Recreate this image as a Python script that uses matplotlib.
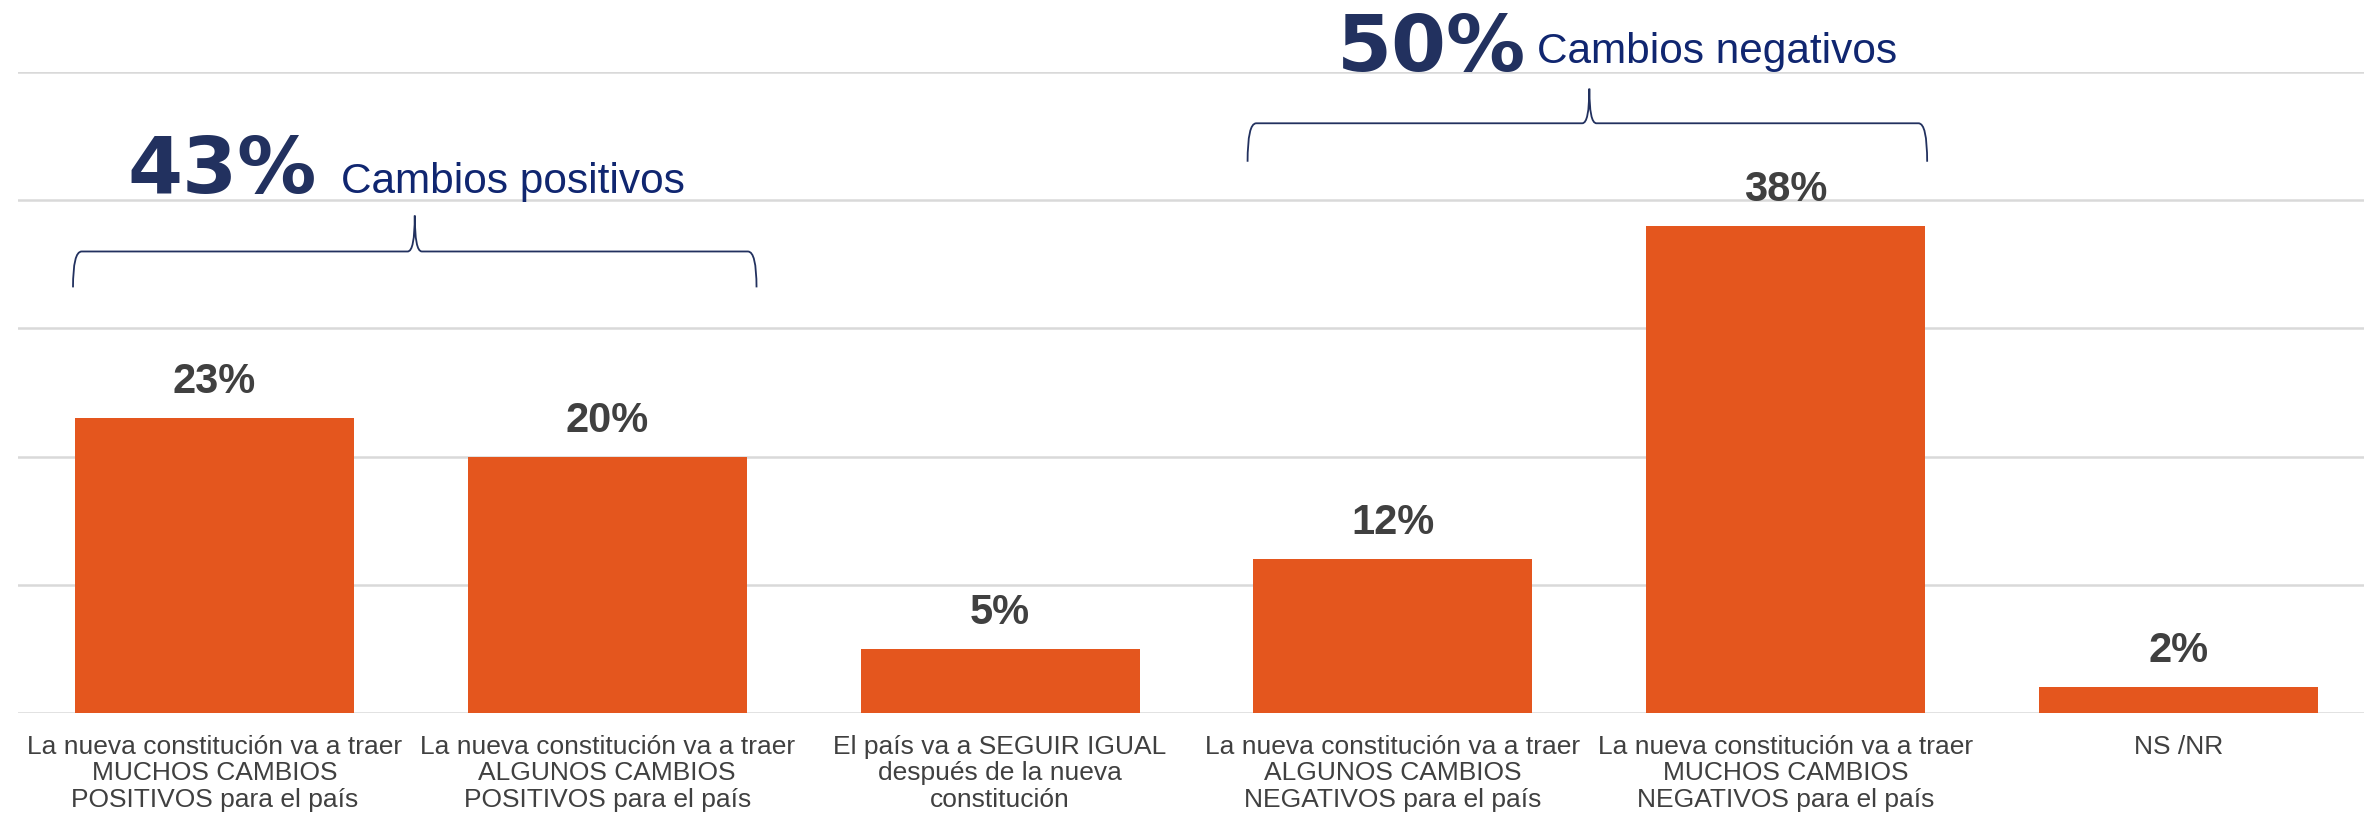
import matplotlib.pyplot as plt
from matplotlib.path import Path
from matplotlib.patches import PathPatch

# Data
categories = [
    "La nueva constitución va a traer\nMUCHOS CAMBIOS\nPOSITIVOS para el país",
    "La nueva constitución va a traer\nALGUNOS CAMBIOS\nPOSITIVOS para el país",
    "El país va a SEGUIR IGUAL\ndespués de la nueva\nconstitución",
    "La nueva constitución va a traer\nALGUNOS CAMBIOS\nNEGATIVOS para el país",
    "La nueva constitución va a traer\nMUCHOS CAMBIOS\nNEGATIVOS para el país",
    "NS /NR",
]
values = [23, 20, 5, 12, 38, 2]
group_totals = ["43%", "50%"]
group_names = ["Cambios positivos", "Cambios negativos"]

orange = "#E4561E"
navy = "#22315F"
navy2 = "#102670"
gray = "#404040"

plt.rcParams['font.family'] = ['Liberation Sans', 'DejaVu Sans']

fig = plt.figure(figsize=(23.64, 8.19), dpi=100)
ax = fig.add_axes([18 / 2364, 106 / 819, 2346 / 2364, 641 / 819])

x = range(len(values))
ax.bar(x, values, width=0.71, color=orange, zorder=2)

# value labels
for i, v in enumerate(values):
    ax.annotate(f"{v}%", (i, v), xytext=(0, 18), textcoords="offset points",
                ha="center", va="baseline", fontsize=30, fontweight="bold", color=gray)

ax.set_xlim(-0.5, 5.472)
ax.set_ylim(0, 50)
ax.set_yticks(range(0, 51, 10))
ax.yaxis.grid(True, color="#D9D9D9", linewidth=1.8, zorder=0)
ax.set_axisbelow(True)
ax.tick_params(axis="y", left=False, labelleft=False)
ax.tick_params(axis="x", length=0, pad=15.5)
ax.set_xticks(list(x))
ax.set_xticklabels(categories, fontsize=19, color=gray, linespacing=1.15)
for s in ax.spines.values():
    s.set_visible(False)


# curly brace over a group of bars
def brace(x0, x1, xm, y_end, y_mid, y_tip):
    rx = 0.022
    rt = 0.018
    verts = [(x0, y_end), (x0, y_mid), (x0 + rx, y_mid),
             (xm - rt, y_mid), (xm, y_mid), (xm, y_tip),
             (xm, y_mid), (xm + rt, y_mid),
             (x1 - rx, y_mid), (x1, y_mid), (x1, y_end)]
    codes = [Path.MOVETO, Path.CURVE3, Path.CURVE3,
             Path.LINETO, Path.CURVE3, Path.CURVE3,
             Path.CURVE3, Path.CURVE3,
             Path.LINETO, Path.CURVE3, Path.CURVE3]
    ax.add_patch(PathPatch(Path(verts, codes), fill=False, edgecolor=navy,
                           linewidth=1.3, clip_on=False, zorder=3))


brace(-0.36, 1.38, 0.51, 33.2, 36.0, 38.8)
brace(2.63, 4.36, 3.50, 43.0, 46.0, 48.7)

big_kw = dict(family="DejaVu Sans", fontsize=57, fontweight="bold", color=navy,
              va="baseline", ha="left")
name_kw = dict(fontsize=30.5, color=navy2, va="baseline", ha="left")
ax.text(-0.221, 40.6, group_totals[0], **big_kw)
ax.text(0.321, 40.6, group_names[0], **name_kw)
ax.text(2.857, 50.1, group_totals[1], **big_kw)
ax.text(3.368, 50.7, group_names[1], **name_kw)

fig.savefig("out.png", dpi=100)
